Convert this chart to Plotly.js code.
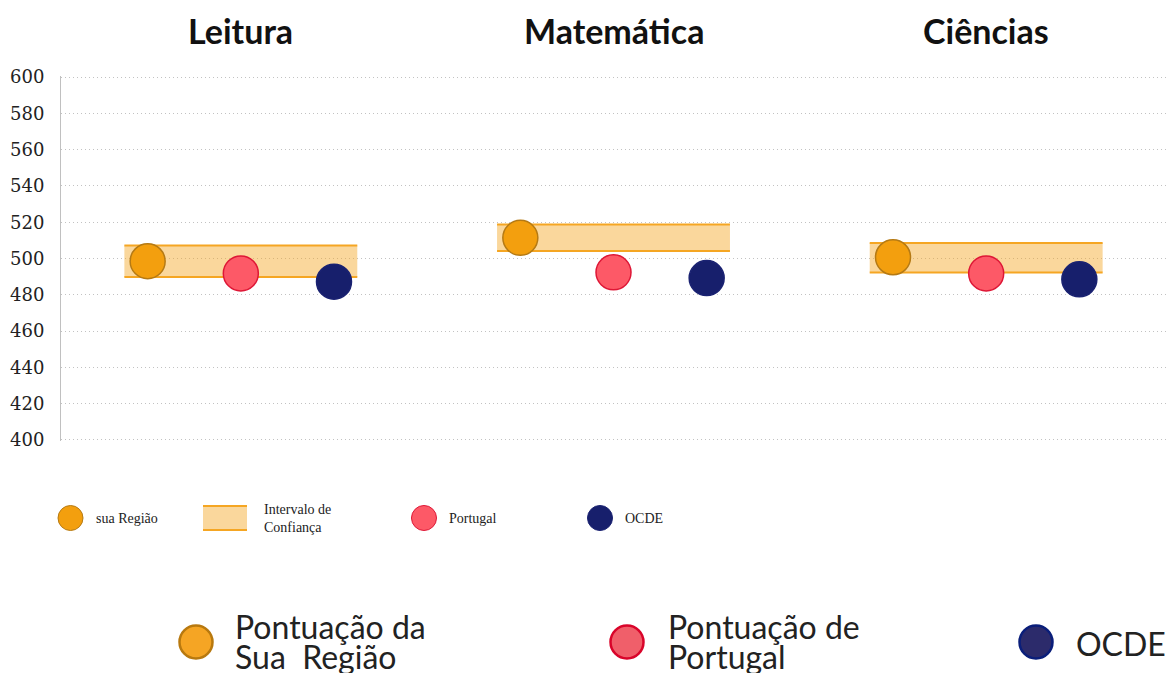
<!DOCTYPE html>
<html>
<head>
<meta charset="utf-8">
<script src="https://cdn.plot.ly/plotly-3.0.1.min.js"></script>
<style>html,body{margin:0;padding:0;background:#fff;}#chart{width:1166px;height:673px;}</style>
</head>
<body>
<div id="chart"></div>
<script>
// ---- data ----
const subjects = ['Leitura', 'Matemática', 'Ciências'];
const regiao   = [498.5, 511.4, 500.7];
const portugal = [491.8, 492.4, 491.8];
const ocde     = [487.2, 489.2, 488.5];
const ciLow    = [489.8, 504.2, 492.3];
const ciHigh   = [507.2, 518.7, 508.6];
const yTicks   = [400, 420, 440, 460, 480, 500, 520, 540, 560, 580, 600];

// ---- layout helpers ----
const W = 1166, H = 673, ML = 61, MR = 0, MT = 76, MB = 232;
const PW = W - ML - MR, PH = H - MT - MB;
const px = v => (v - ML) / PW;
const py = v => (H - MB - v) / PH;
const GAP = 4; // group spacing in x units
const gx = (i, off) => i * GAP + off;

const cOrange = '#F39F0E', cOrangeLine = '#B57A14';
const cRed = '#FD5967', cRedLine = '#DE1736';
const cNavy = '#171F6C', cNavyLine = '#1A2272';
const bandFill = 'rgba(245,166,35,0.45)', bandLine = '#F5A623';

const traces = [];
subjects.forEach((s, i) => {
  const x0 = gx(i, -0.25), x1 = gx(i, 2.25);
  traces.push({
    type: 'scatter', mode: 'lines', x: [x0, x1, x1, x0, x0],
    y: [ciLow[i], ciLow[i], ciHigh[i], ciHigh[i], ciLow[i]],
    fill: 'toself', fillcolor: bandFill, line: {width: 0}, hoverinfo: 'skip', showlegend: false
  });
  traces.push({type: 'scatter', mode: 'lines', x: [x0, x1], y: [ciHigh[i], ciHigh[i]],
    line: {color: bandLine, width: 2}, showlegend: false, hoverinfo: 'skip'});
  traces.push({type: 'scatter', mode: 'lines', x: [x0, x1], y: [ciLow[i], ciLow[i]],
    line: {color: bandLine, width: 2}, showlegend: false, hoverinfo: 'skip'});
});
const mk = (vals, off, fill, line) => ({
  type: 'scatter', mode: 'markers',
  x: subjects.map((s, i) => gx(i, off)), y: vals, text: subjects,
  marker: {size: 35, color: fill, line: {color: line, width: 1.5}},
  showlegend: false, cliponaxis: false
});
traces.push(mk(regiao, 0, cOrange, cOrangeLine));
traces.push(mk(portugal, 1, cRed, cRedLine));
traces.push(mk(ocde, 2, cNavy, cNavyLine));

// ---- titles & legends ----
const annotations = subjects.map((s, i) => ({
  text: '<b>' + s + '</b>', x: gx(i, 1), xref: 'x', y: py(31), yref: 'paper',
  showarrow: false, xanchor: 'center', yanchor: 'middle',
  font: {family: 'Lato', size: 34, color: '#111'}
}));
const shapes = [];
const circle = (cx, cy, d, fill, line, lw) => shapes.push({
  type: 'circle', xref: 'paper', yref: 'paper', xsizemode: 'pixel', ysizemode: 'pixel',
  xanchor: px(cx), yanchor: py(cy), x0: -d / 2, x1: d / 2, y0: -d / 2, y1: d / 2,
  fillcolor: fill, line: {color: line, width: lw}
});
const label = (text, x, y, size, fam, color) => annotations.push({
  text: text, x: px(x), y: py(y), xref: 'paper', yref: 'paper', showarrow: false,
  xanchor: 'left', yanchor: 'middle', align: 'left', font: {family: fam, size: size, color: color}
});

// small legend row
const LY = 518;
circle(70.5, LY, 25, cOrange, cOrangeLine, 1);
shapes.push({type: 'rect', xref: 'paper', yref: 'paper', x0: px(203), x1: px(247), y0: py(530), y1: py(506),
  fillcolor: bandFill, line: {width: 0}});
shapes.push({type: 'line', xref: 'paper', yref: 'paper', x0: px(203), x1: px(247), y0: py(506), y1: py(506), line: {color: bandLine, width: 2}});
shapes.push({type: 'line', xref: 'paper', yref: 'paper', x0: px(203), x1: px(247), y0: py(530), y1: py(530), line: {color: bandLine, width: 2}});
circle(424, LY, 25, cRed, cRedLine, 1);
circle(600, LY, 25, cNavy, cNavyLine, 1);
const sf = 'Liberation Serif';
label('sua Região', 94, LY, 14, sf, '#222');
label('Intervalo de<br>Confiança', 262, LY, 14, sf, '#222');
label('Portugal', 447, LY, 14, sf, '#222');
label('OCDE', 623, LY, 14, sf, '#222');

// big legend row
const BY = 642;
circle(196, BY, 33, '#F5A524', '#B8790F', 2.5);
circle(627, BY, 33, '#F05F6A', '#D9042A', 2.5);
circle(1036, BY, 33, '#2C2B6B', '#0A1E7A', 2.5);
const lf = 'Lato';
label('Pontuação da', 233, 626, 32, lf, '#222');
label('Sua\u00a0 Região', 233, 656, 32, lf, '#222');
label('Pontuação de', 666, 626, 32, lf, '#222');
label('Portugal', 666, 656, 32, lf, '#222');
label('OCDE', 1074, 643, 32, lf, '#222');

const layout = {
  width: W, height: H,
  margin: {l: ML, r: MR, t: MT, b: MB, pad: 0},
  paper_bgcolor: '#fff', plot_bgcolor: '#fff',
  showlegend: false,
  xaxis: {range: [-0.93, 10.93], visible: false, showgrid: false, zeroline: false, fixedrange: true},
  yaxis: {
    range: [399.4, 600.6], tickvals: yTicks, ticktext: yTicks.map(String),
    showgrid: true, gridcolor: '#C2C2C2', griddash: '1px,3px', gridwidth: 1,
    showline: true, linecolor: '#C0C0C0', linewidth: 1, zeroline: false,
    ticks: '', ticklabelstandoff: 12,
    tickfont: {family: 'DejaVu Serif', size: 18, color: '#222'}, fixedrange: true
  },
  annotations: annotations, shapes: shapes
};
Plotly.newPlot('chart', traces, layout, {displayModeBar: false, staticPlot: true});
</script>
</body>
</html>
